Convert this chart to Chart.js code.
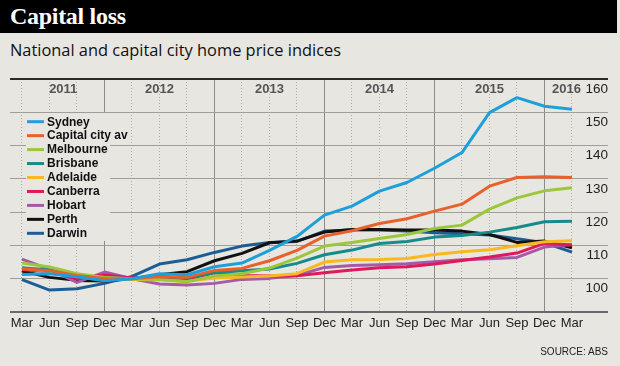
<!DOCTYPE html>
<html><head><meta charset="utf-8">
<script src="https://cdn.jsdelivr.net/npm/chart.js@4.4.1/dist/chart.umd.min.js"></script>
<style>
html,body{margin:0;padding:0;}
body{width:620px;height:366px;background:#e8e6e0;position:relative;overflow:hidden;font-family:"Liberation Sans",Arial,sans-serif;}
#bar{position:absolute;left:0;top:0;width:617px;height:33px;background:#000;}
#title{position:absolute;left:10px;top:0;height:33px;line-height:33px;color:#fff;font-weight:bold;font-size:24px;font-family:"Liberation Serif",serif;letter-spacing:-0.3px;white-space:nowrap;}
#sub{position:absolute;left:10px;top:40px;font-size:16.4px;font-family:"Open Sans","Liberation Sans",sans-serif;color:#111;white-space:nowrap;line-height:20px;}
#src{position:absolute;right:12px;top:346px;font-size:10px;font-family:"Liberation Sans",sans-serif;color:#222;white-space:nowrap;}
#wrap{position:absolute;left:0;top:0;width:620px;height:366px;}
</style></head>
<body>
<div id="bar"></div>
<div id="title">Capital loss</div>
<div id="sub">National and capital city home price indices</div>
<div id="wrap"><canvas id="c" width="620" height="366"></canvas></div>
<div id="src">SOURCE: ABS</div>
<script>
// ---- data ----
const quarters = ['Mar','Jun','Sep','Dec','Mar','Jun','Sep','Dec','Mar','Jun','Sep','Dec','Mar','Jun','Sep','Dec','Mar','Jun','Sep','Dec','Mar'];
const years = ['2011','2012','2013','2014','2015','2016'];
const yTicks = [100,110,120,130,140,150,160];

const sydney    = [101.3,101.5,100.6,99.4,100.0,101.5,101.2,103.6,104.7,108.5,112.7,119.1,121.8,126.3,128.9,133.2,137.9,149.9,154.4,151.8,150.9];
const capital   = [103.0,102.4,101.0,100.1,100.0,100.6,100.4,102.5,103.1,105.4,108.5,112.8,114.4,116.6,118.0,120.3,122.4,127.8,130.4,130.6,130.4];
const melbourne = [104.7,103.5,101.5,100.4,100.0,99.8,99.1,100.8,101.5,103.2,106.2,109.8,110.9,112.1,113.3,115.1,116.1,120.9,124.3,126.4,127.3];
const brisbane  = [103.3,102.6,101.2,100.3,100.0,100.6,100.3,101.8,102.4,102.9,104.6,107.2,108.6,110.6,111.2,112.5,113.0,114.0,115.4,117.1,117.3];
const adelaide  = [103.2,102.2,100.8,100.2,99.8,99.6,99.2,100.2,100.5,100.8,101.5,105.0,105.7,105.8,106.1,107.3,108.1,108.7,109.9,111.1,111.4];
const canberra  = [102.7,102.2,100.0,101.1,100.2,100.4,99.8,101.8,101.0,100.8,100.9,101.8,102.6,103.3,103.6,104.4,105.5,106.5,107.7,110.6,110.1];
const hobart    = [105.9,102.8,98.9,102.0,100.0,98.4,98.1,98.6,99.8,100.1,101.0,103.4,104.0,104.2,104.5,105.1,105.7,106.0,106.4,109.5,110.3];
const perth     = [102.3,100.4,99.5,99.3,100.0,101.2,102.1,105.4,107.6,110.8,111.3,114.0,114.8,114.8,114.6,114.6,114.3,113.3,110.9,111.3,109.3];
const darwin    = [99.7,96.6,97.0,98.6,100.7,104.4,105.7,107.9,109.8,110.9,111.2,114.3,114.6,114.6,114.3,113.8,113.5,113.1,112.0,110.8,108.0];

const seriesNames = ['Sydney','Capital city av','Melbourne','Brisbane','Adelaide','Canberra','Hobart','Perth','Darwin'];
const seriesData = [sydney,capital,melbourne,brisbane,adelaide,canberra,hobart,perth,darwin];
const seriesColors = ['#1d9fdb','#e8612b','#9cc63b','#178a8c','#f8b81e','#e0185c','#a45aa7','#111111','#1c5d95'];

const BG = '#e8e6e0';
const X_MIN = -0.436, X_MAX = 21.31;

// year label centres derived from the Dec boundaries
const yearBounds = [0,3,7,11,15,19,20.6];
const yearCenters = years.map((y,i)=>(yearBounds[i]+yearBounds[i+1])/2);

const datasets = seriesNames.map((name,i)=>({
  label:name,
  data: seriesData[i].map((v,j)=>({x:j,y:v})),
  borderColor: seriesColors[i],
  backgroundColor: seriesColors[i],
  borderWidth:3,
  pointRadius:0,
  tension:0,
  fill:false,
  borderJoinStyle:'round',
  borderCapStyle:'butt'
}));

const legendPlugin = {
  id:'boxLegend',
  beforeDatasetsDraw(chart){
    const {ctx, chartArea} = chart;
    const L = chartArea.left, T = chartArea.top;
    ctx.save();
    ctx.fillStyle = BG;
    ctx.fillRect(L+16, T+34, 84, 128);
    ctx.font = 'bold 12px "Liberation Sans", Arial, sans-serif';
    ctx.textBaseline = 'middle';
    ctx.textAlign = 'left';
    chart.data.datasets.forEach((ds,i)=>{
      const y = T + 42.7 + i*13.95;
      ctx.strokeStyle = ds.borderColor;
      ctx.lineWidth = 3;
      ctx.lineCap = 'butt';
      ctx.beginPath();
      ctx.moveTo(L+17, y);
      ctx.lineTo(L+34, y);
      ctx.stroke();
      ctx.fillStyle = '#111';
      ctx.fillText(ds.label, L+37, y+0.5);
    });
    ctx.restore();
  }
};

new Chart(document.getElementById('c'), {
  type:'line',
  data:{datasets},
  plugins:[legendPlugin],
  options:{
    responsive:false,
    animation:false,
    devicePixelRatio:1,
    layout:{padding:{left:10,right:12,top:79,bottom:24}},
    plugins:{legend:{display:false},tooltip:{enabled:false}},
    scales:{
      x:{
        type:'linear', min:X_MIN, max:X_MAX,
        afterBuildTicks:(s)=>{ s.ticks = quarters.map((q,i)=>({value:i})); },
        afterFit:(s)=>{ s.height = 30; },
        ticks:{autoSkip:false, maxRotation:0, padding:4, color:'#222',
          font:{family:'"Liberation Sans", sans-serif', size:13},
          callback:(v)=>quarters[v]},
        grid:{drawTicks:false,
          color:(c)=> (c.tick && c.tick.value%4===3) ? '#8d8b86' : '#b0ada6',
          lineWidth:1},
        border:{display:false, dash:(c)=> (c.tick && c.tick.value%4===3) ? [] : [1,2]}
      },
      xYear:{
        type:'linear', position:'top', min:X_MIN, max:X_MAX,
        afterBuildTicks:(s)=>{ s.ticks = yearCenters.map(v=>({value:v})); },
        afterFit:(s)=>{ s.height = 0; },
        ticks:{mirror:true, autoSkip:false, maxRotation:0, padding:3, color:'#555',
          font:{family:'"Liberation Sans", sans-serif', size:13, weight:'bold'},
          callback:(v,i)=>years[i]},
        grid:{display:false},
        border:{display:false}
      },
      y:{
        position:'right', min:90, max:160,
        afterBuildTicks:(s)=>{ s.ticks = [90].concat(yTicks).map(v=>({value:v})); },
        afterFit:(s)=>{ s.width = 0; },
        ticks:{mirror:true, padding:0, labelOffset:10, color:'#222',
          font:{family:'"Liberation Sans", sans-serif', size:13.5},
          callback:(v)=> yTicks.includes(v) ? String(v) : ''},
        grid:{drawTicks:false,
          color:(c)=> c.tick.value===160 ? '#2a2a2a' : (c.tick.value===90 ? '#6a6a6a' : '#a09e98'),
          lineWidth:(c)=> (c.tick.value===160 || c.tick.value===90) ? 2 : 1},
        border:{display:false}
      }
    }
  }
});
</script>
</body></html>
